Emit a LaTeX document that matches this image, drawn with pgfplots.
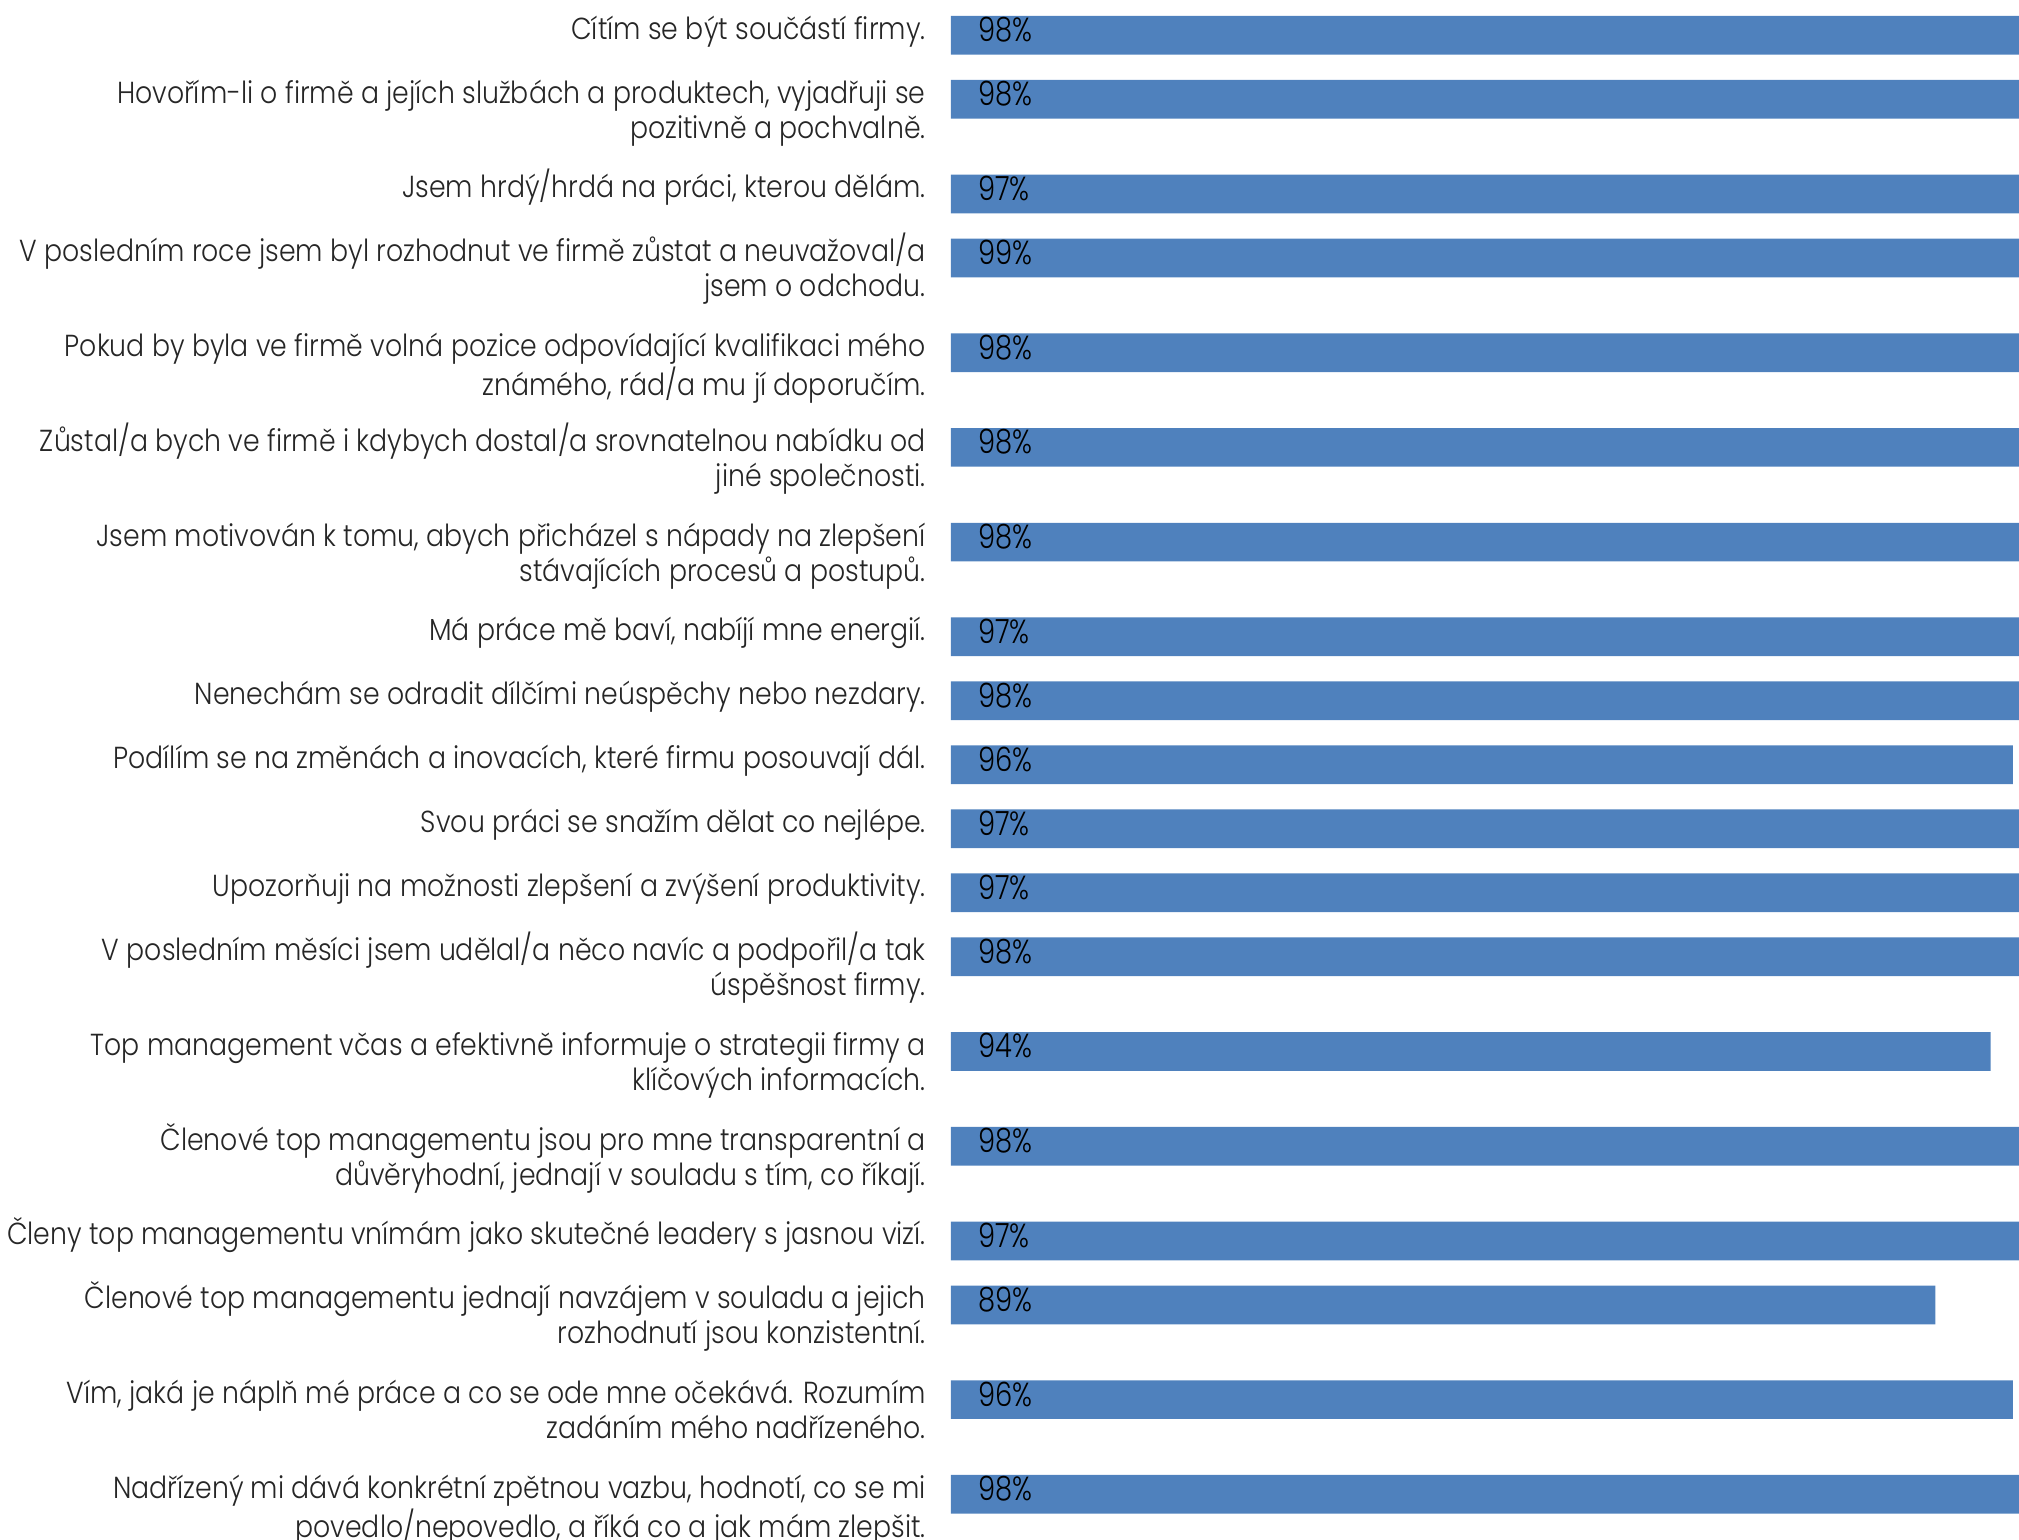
\documentclass[border=0pt]{standalone}
\usepackage{pgfplots}
\pgfplotsset{compat=1.18}
\usepackage{pgfplotstable}
\usepackage{fontspec}
\newfontfamily\futura{Poppins Light}[FakeStretch=0.88]
\newfontfamily\futuranum{Poppins Light}[FakeStretch=0.82]
\definecolor{barblue}{HTML}{4F81BD}
\definecolor{labgray}{HTML}{262626}

% y = bar centre in pixels from the top (rows with two-line labels are taller)
\pgfplotstableread{
y      v
35.3   98
99.3   98
194.0  97
258.0  99
352.7  98
447.4  98
542.1  98
636.8  97
700.8  98
764.8  96
828.8  97
892.8  97
956.8  98
1051.5 94
1146.2 98
1240.9 97
1304.9 89
1399.6 96
1494.3 98
}\data

\newcommand{\two}[2]{\begin{tabular}[t]{@{}r@{}}#1\\#2\end{tabular}}

\begin{document}
\begin{tikzpicture}
\path[use as bounding box] (0,0) rectangle (1009.5pt,770pt);
\begin{axis}[
    at={(475.5pt,770pt)}, anchor=north west,
    scale only axis,
    width=534pt, height=770pt,
    xmin=0, xmax=96.56,
    ymin=0, ymax=1540,
    y dir=reverse,
    axis x line=none,
    axis y line=left,
    y axis line style={draw=none},
    major tick length=0pt,
    ytick={35.3,99.3,194.0,258.0,352.7,447.4,542.1,636.8,700.8,764.8,828.8,892.8,956.8,1051.5,1146.2,1240.9,1304.9,1399.6,1494.3},
    yticklabels={
        {Cítím se být součástí firmy.},
        {\two{Hovořím-li o firmě a jejích službách a produktech, vyjadřuji se}{pozitivně a pochvalně.}},
        {Jsem hrdý/hrdá na práci, kterou dělám.},
        {\two{V posledním roce jsem byl rozhodnut ve firmě zůstat a neuvažoval/a}{jsem o odchodu.}},
        {\two{Pokud by byla ve firmě volná pozice odpovídající kvalifikaci mého}{známého, rád/a mu jí doporučím.}},
        {\two{Zůstal/a bych ve firmě i kdybych dostal/a srovnatelnou nabídku od}{jiné společnosti.}},
        {\two{Jsem motivován k tomu, abych přicházel s nápady na zlepšení}{stávajících procesů a postupů.}},
        {Má práce mě baví, nabíjí mne energií.},
        {Nenechám se odradit dílčími neúspěchy nebo nezdary.},
        {Podílím se na změnách a inovacích, které firmu posouvají dál.},
        {Svou práci se snažím dělat co nejlépe.},
        {Upozorňuji na možnosti zlepšení a zvýšení produktivity.},
        {\two{V posledním měsíci jsem udělal/a něco navíc a podpořil/a tak}{úspěšnost firmy.}},
        {\two{Top management včas a efektivně informuje o strategii firmy a}{klíčových informacích.}},
        {\two{Členové top managementu jsou pro mne transparentní a}{důvěryhodní, jednají v souladu s tím, co říkají.}},
        {Členy top managementu vnímám jako skutečné leadery s jasnou vizí.},
        {\two{Členové top managementu jednají navzájem v souladu a jejich}{rozhodnutí jsou konzistentní.}},
        {\two{Vím, jaká je náplň mé práce a co se ode mne očekává. Rozumím}{zadáním mého nadřízeného.}},
        {\two{Nadřízený mi dává konkrétní zpětnou vazbu, hodnotí, co se mi}{povedlo/nepovedlo, a říká co a jak mám zlepšit.}},
    },
    yticklabel style={
        font=\futura\fontsize{15.2}{17.5}\selectfont,
        text=labgray, anchor=base east, inner sep=0pt,
        xshift=-12.5pt, yshift=-2pt
    },
    clip=true,
]
\addplot[xbar, bar width=38.7, fill=barblue, draw=none] table[x=v, y=y] {\data};
\addplot[draw=none, mark=none,
    point meta=explicit symbolic,
    nodes near coords={\pgfplotspointmeta\%},
    every node near coord/.style={
        font=\futuranum\fontsize{16.7}{18}\selectfont, text=black,
        anchor=base west, inner sep=0pt, xshift=13.35pt, yshift=-3.2pt}
] table[x expr=0, y=y, meta=v] {\data};
\end{axis}
\end{tikzpicture}
\end{document}
